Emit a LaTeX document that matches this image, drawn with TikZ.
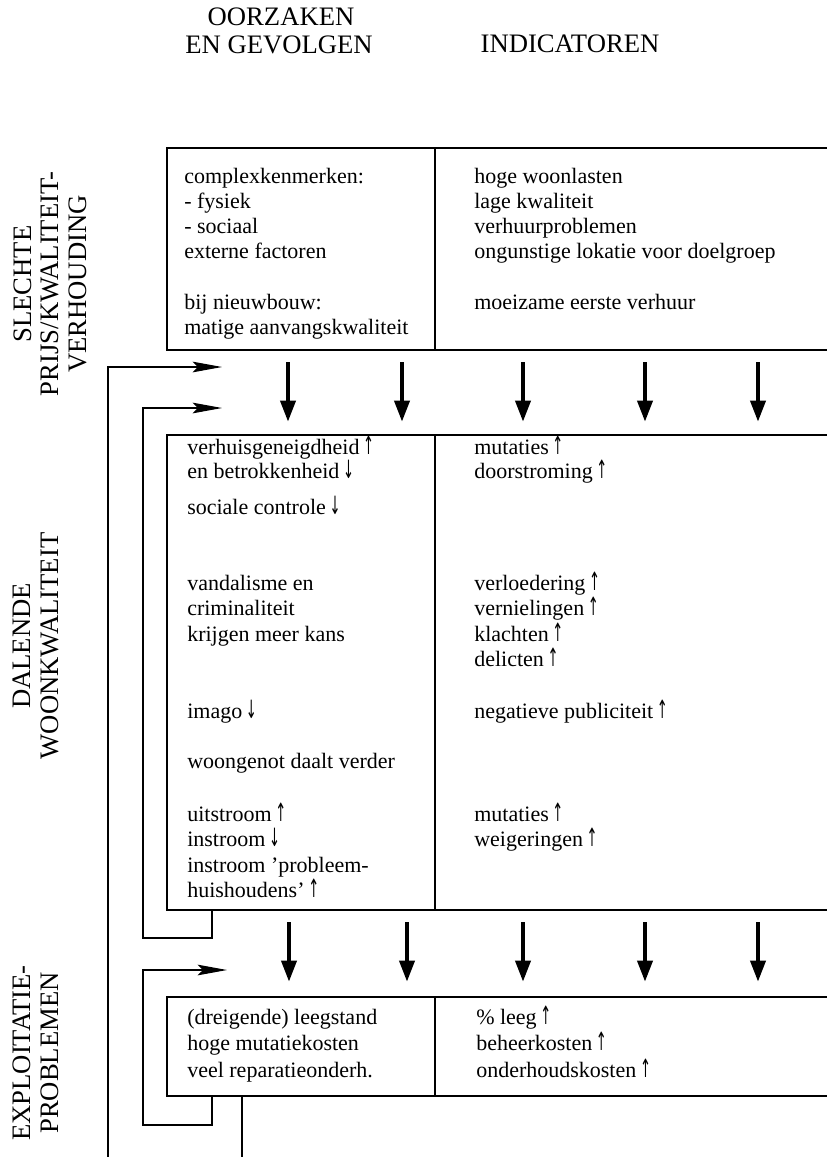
\documentclass[tikz,border=0pt]{standalone}
\usepackage{fontspec}
\setmainfont{Liberation Serif}
\newfontfamily\arrowfont{DejaVu Sans}
\usetikzlibrary{arrows.meta}
\newcommand{\UpA}{\,\scalebox{0.7}[1.35]{\arrowfont\fontsize{14}{14}\selectfont ↑}}
\newcommand{\DnA}{\,\scalebox{0.7}[1.35]{\arrowfont\fontsize{14}{14}\selectfont ↓}}
\begin{document}
\begin{tikzpicture}[x=0.75pt,y=-0.75pt,
  boxline/.style={line width=1pt},
  body/.style={anchor=base west,inner sep=0pt,font=\fontsize{16.5}{20}\selectfont},
  head/.style={anchor=base,inner sep=0pt,font=\fontsize{20}{24}\selectfont},
  side/.style={rotate=90,align=center,inner sep=0pt,font=\fontsize{20}{20.6}\selectfont},
  down/.style={line width=3.4pt,-{Triangle[length=16pt,width=11pt]}},
  fb/.style={line width=0.8pt,-{Stealth[length=22pt,width=8pt,inset=4pt]}},
  fbline/.style={line width=0.8pt}]
\useasboundingbox (0,0) rectangle (827,1157);

% headers
\node[head] (h1) at (281,25) {OORZAKEN};
\node[head] (h2) at (279,53) {EN GEVOLGEN};
\node[head] (h3) at (570,52) {INDICATOREN};

% side labels
\node[side] (s1) at (50,284) {SLECHTE\\PRIJS/KWALITEIT-\\VERHOUDING};
\node[side] (s2) at (36,646) {DALENDE\\WOONKWALITEIT};
\node[side] (s3) at (36,1053) {EXPLOITATIE-\\PROBLEMEN};

% box 1
\draw[boxline] (827,148) -- (167,148) -- (167,350) -- (827,350);
\draw[boxline] (435,148) -- (435,350);
\node[body] (l1a) at (184,183) {complexkenmerken:};
\node[body] (l1b) at (184,208) {- fysiek};
\node[body] (l1c) at (184,233) {- sociaal};
\node[body] (l1d) at (184,258) {externe factoren};
\node[body] (l1e) at (184,309) {bij nieuwbouw:};
\node[body] (l1f) at (184,334) {matige aanvangskwaliteit};
\node[body] (r1a) at (474,183) {hoge woonlasten};
\node[body] (r1b) at (474,208) {lage kwaliteit};
\node[body] (r1c) at (474,233) {verhuurproblemen};
\node[body] (r1d) at (474,258) {ongunstige lokatie voor doelgroep};
\node[body] (r1e) at (474,309) {moeizame eerste verhuur};

% box 2
\draw[boxline] (827,435) -- (167,435) -- (167,910) -- (827,910);
\draw[boxline] (435,435) -- (435,910);
\node[body] (l2a) at (187,454) {verhuisgeneigdheid\UpA};
\node[body] (l2b) at (187,478) {en betrokkenheid\DnA};
\node[body] (l2c) at (187,514) {sociale controle\DnA};
\node[body] (l2d) at (187,590) {vandalisme en};
\node[body] (l2e) at (187,615) {criminaliteit};
\node[body] (l2f) at (187,641) {krijgen meer kans};
\node[body] (l2g) at (187,718) {imago\DnA};
\node[body] (l2h) at (187,768) {woongenot daalt verder};
\node[body] (l2i) at (187,821) {uitstroom\UpA};
\node[body] (l2j) at (187,846) {instroom\DnA};
\node[body] (l2k) at (187,872) {instroom 'probleem-};
\node[body] (l2l) at (187,897) {huishoudens'\UpA};
\node[body] (r2a) at (474,454) {mutaties\UpA};
\node[body] (r2b) at (474,478) {doorstroming\UpA};
\node[body] (r2c) at (474,590) {verloedering\UpA};
\node[body] (r2d) at (474,615) {vernielingen\UpA};
\node[body] (r2e) at (474,641) {klachten\UpA};
\node[body] (r2f) at (474,666) {delicten\UpA};
\node[body] (r2g) at (474,718) {negatieve publiciteit\UpA};
\node[body] (r2h) at (474,821) {mutaties\UpA};
\node[body] (r2i) at (474,846) {weigeringen\UpA};

% box 3
\draw[boxline] (827,997) -- (167,997) -- (167,1096) -- (827,1096);
\draw[boxline] (435,997) -- (435,1096);
\node[body] (l3a) at (187,1024) {(dreigende) leegstand};
\node[body] (l3b) at (187,1050) {hoge mutatiekosten};
\node[body] (l3c) at (187,1077) {veel reparatieonderh.};
\node[body] (r3a) at (476,1024) {\% leeg\UpA};
\node[body] (r3b) at (476,1050) {beheerkosten\UpA};
\node[body] (r3c) at (476,1077) {onderhoudskosten\UpA};

% down arrows, row 1
\foreach \x [count=\i] in {288,402,523,645,758}{
  \coordinate (da\i) at (\x,362);
  \coordinate (db\i) at (\x,422);
  \draw[down] (da\i) -- (db\i);
}
% down arrows, row 2
\foreach \x [count=\i] in {289,407,523,645,758}{
  \coordinate (dc\i) at (\x,922);
  \coordinate (dd\i) at (\x,982);
  \draw[down] (dc\i) -- (dd\i);
}

% feedback loops
\coordinate (o1) at (108,1157);
\coordinate (t1) at (222,367);
\draw[fb] (o1) |- (t1);

\coordinate (f2a) at (212,910);
\coordinate (f2b) at (143,938);
\coordinate (t2) at (222,408);
\draw[fb] (f2a) |- (f2b) |- (t2);

\coordinate (f3a) at (212,1096);
\coordinate (f3b) at (143,1125);
\coordinate (t3) at (227,970);
\draw[fb] (f3a) |- (f3b) |- (t3);

\coordinate (f4a) at (242,1096);
\coordinate (f4b) at (242,1157);
\draw[fbline] (f4a) -- (f4b);
\end{tikzpicture}
\end{document}
